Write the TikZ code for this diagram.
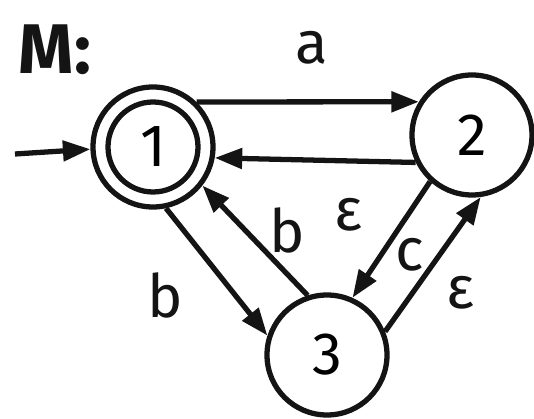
\documentclass[tikz,border=0pt]{standalone}
\usepackage{fontspec}
\setmainfont{Fira Sans}
\usepackage{tikz}
\usetikzlibrary{arrows.meta, positioning}
\definecolor{inkblack}{RGB}{20, 20, 20}

\begin{document}
\begin{tikzpicture}[
  state/.style={circle, draw=inkblack, line width=3pt, minimum size=2.4cm, inner sep=0pt, font=\fontsize{34}{40}\selectfont},
  trans/.style={draw=inkblack, line width=3pt, -{Triangle[length=0.55cm, width=0.4cm]}},
  lbl/.style={inkblack, font=\fontsize{34}{40}\selectfont}
]
\useasboundingbox (0,0) rectangle (10.68,-8.38);

\node[state] (s1) at (3.06,-2.94) {};
\node[state, minimum size=1.8cm] (s1in) at (s1) {1};
\node[state] (s2) at (9.44,-2.7) {2};
\node[state] (s3) at (6.54,-7.1) {3};

\node[inkblack, font=\fontsize{40}{46}\selectfont\bfseries] (mname) at (1.1,-1.0) {M:};
\coordinate (start) at (0.3,-3.08);

\draw[trans] (start) -- (s1.182);
\draw[trans] (s1.46) -- (s2.148);
\draw[trans] (s2.206) -- (s1.-10);
\draw[trans] (s1.-78) -- (s3.162);
\draw[trans] (s3.108) -- (s1.-38);
\draw[trans] (s2.228) -- (s3.66);
\draw[trans] (s3.22) -- (s2.-82);

\node[lbl] (la) at (6.24,-0.95) {a};
\node[lbl] (leps1) at (6.96,-4.3) {ε};
\node[lbl] (lb1) at (5.74,-4.6) {b};
\node[lbl] (lc) at (8.2,-5.1) {c};
\node[lbl] (leps2) at (9.2,-5.85) {ε};
\node[lbl] (lb2) at (3.3,-5.9) {b};

\end{tikzpicture}
\end{document}
